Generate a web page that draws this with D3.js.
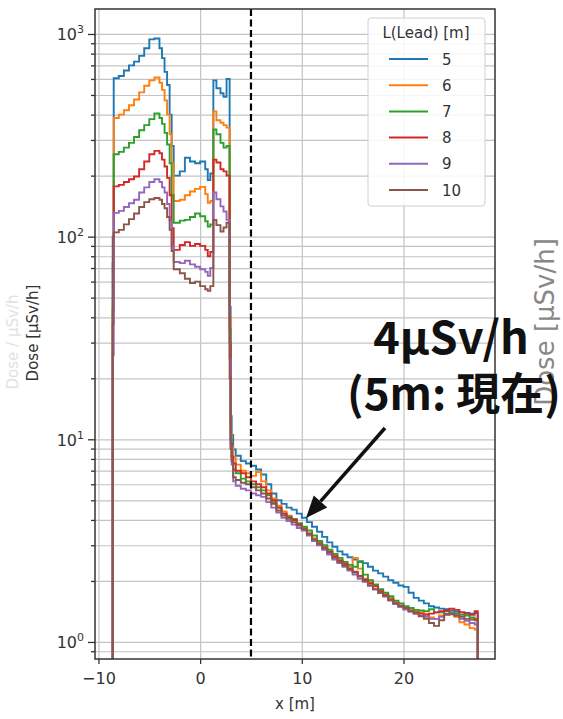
<!DOCTYPE html>
<html>
<head>
<meta charset="utf-8">
<script src="https://cdn.jsdelivr.net/npm/d3@7"></script>
<style>
body { margin: 0; background: #fff; }
svg { display: block; font-family: "DejaVu Sans", sans-serif; }
</style>
</head>
<body>
<script>
// step positions along the line [m]; each value holds until the next x
var xs = [-8.7, -8.6, -8.5, -8.0, -7.5, -7.0, -6.5, -6.0, -5.5, -5.0, -4.5, -4.0, -3.75, -3.5, -3.25, -3.0, -2.8,
          -2.6, -2.0, -1.5, -1.0, -0.5, 0, 0.5, 0.75, 1.0,
          1.3, 1.6, 2.0, 2.3, 2.6,
          2.9, 3.0, 3.1, 3.25, 3.5, 4, 4.5, 5, 5.5, 6, 6.5,
          7, 7.5, 8, 8.5, 9, 9.5, 10, 10.5, 11, 11.5, 12, 12.5, 13, 13.5, 14, 14.5, 15, 15.5, 16, 16.5,
          17, 17.5, 18, 18.5, 19, 19.5, 20, 20.5, 21, 21.5, 22, 22.5, 23, 23.5, 24, 24.5, 25, 25.5, 26, 26.5, 27,
          27.3];

var dose5 = [0.5, 74, 605, 620, 660, 700, 730, 780, 850, 940, 950, 850, 760, 650, 560, 400, 280,
             200, 210, 245, 235, 230, 235, 215, 190, 205,
             590, 540, 510, 490, 600,
             45, 13, 10.5, 8.9, 8.3, 7.8, 7.6, 7.4, 7.1, 6.7, 6.0,
             5.4, 5.0, 4.8, 4.6, 4.5, 4.3, 4.1, 3.9, 3.7, 3.5, 3.3, 3.1, 2.95, 2.8, 2.7, 2.62, 2.55, 2.5, 2.45, 2.35,
             2.25, 2.18, 2.1, 2.02, 1.96, 1.9, 1.87, 1.75, 1.65, 1.6, 1.55, 1.5, 1.48, 1.46, 1.45, 1.43, 1.41, 1.4, 1.39, 1.38, 1.39,
             0.5];
var dose6 = [0.5, 50, 385, 400, 420, 445, 475, 515, 555, 590, 610, 575, 530, 470, 400, 320, 230,
             150, 152, 160, 167, 172, 176, 162, 147, 150,
             415, 375, 365, 355, 345,
             40, 11, 9.2, 8.2, 7.5, 7.0, 6.8, 6.6, 6.9, 6.2, 5.6,
             5.1, 4.7, 4.4, 4.2, 4.0, 3.8, 3.65, 3.45, 3.25, 3.1, 2.95, 2.8, 2.7, 2.55, 2.45, 2.35, 2.6, 2.3, 2.05, 1.98,
             1.9, 1.8, 1.72, 1.65, 1.58, 1.52, 1.48, 1.45, 1.42, 1.4, 1.38, 1.32, 1.3, 1.35, 1.36, 1.38, 1.33, 1.25, 1.22, 1.17, 1.15,
             0.5];
var dose7 = [0.5, 44, 255, 262, 275, 290, 310, 335, 355, 380, 405, 385, 360, 325, 285, 230, 160,
             117, 120, 121, 125, 130, 126, 119, 112, 115,
             338, 320, 290, 275, 280,
             35, 10, 8.2, 7.1, 6.8, 6.4, 6.2, 6.0, 5.8, 5.6, 5.3,
             4.9, 4.6, 4.3, 4.15, 4.05, 3.85, 3.7, 3.55, 3.35, 3.15, 3.0, 2.85, 2.72, 2.6, 2.48, 2.4, 2.35, 2.48, 2.15, 2.02,
             1.92, 1.82, 1.75, 1.68, 1.6, 1.55, 1.5, 1.47, 1.44, 1.43, 1.42, 1.45, 1.4, 1.4, 1.42, 1.4, 1.38, 1.36, 1.35, 1.32, 1.3,
             0.5];
var dose8 = [0.5, 37, 177, 180, 186, 192, 198, 215, 235, 255, 265, 258, 240, 222, 195, 160, 110,
             86, 91, 94, 90, 92, 90, 86, 80, 84,
             240, 232, 215, 210, 200,
             30, 9.5, 8.2, 7.6, 7.0, 6.8, 6.5, 6.2, 6.0, 5.8, 5.4,
             5.0, 4.6, 4.3, 4.1, 4.0, 3.8, 3.6, 3.4, 3.2, 3.05, 2.92, 2.78, 2.65, 2.52, 2.42, 2.3, 2.22, 2.12, 2.03, 1.95,
             1.88, 1.78, 1.7, 1.62, 1.55, 1.5, 1.45, 1.42, 1.4, 1.38, 1.36, 1.38, 1.4, 1.42, 1.43, 1.46, 1.44, 1.4, 1.38, 1.36, 1.42,
             0.5];
var dose9 = [0.5, 26, 131, 134, 140, 146, 152, 165, 175, 186, 192, 186, 175, 165, 145, 120, 90,
             75, 74, 76, 73, 71, 69, 67, 64, 70,
             165, 153, 141, 133, 121,
             25, 9, 7.5, 6.2, 5.9, 5.7, 5.6, 5.4, 5.3, 5.2, 4.9,
             4.6, 4.35, 4.1, 3.95, 3.8, 3.65, 3.55, 3.35, 3.15, 3.0, 2.85, 2.7, 2.55, 2.45, 2.35, 2.25, 2.15, 2.05, 1.98, 1.9,
             1.82, 1.75, 1.68, 1.6, 1.54, 1.49, 1.45, 1.41, 1.38, 1.35, 1.33, 1.3, 1.3, 1.33, 1.36, 1.38, 1.35, 1.3, 1.27, 1.24, 1.22,
             0.5];
var dose10 = [0.5, 100, 105, 108, 115, 122, 130, 140, 148, 153, 155, 152, 145, 138, 125, 108, 85,
              69, 66, 62, 59, 60, 57, 55, 54, 57,
              121, 114, 106, 111, 117,
              20, 9, 7.8, 6.5, 6.3, 6.1, 6.0, 5.8, 5.6, 5.4, 5.1,
              4.8, 4.45, 4.2, 4.05, 3.9, 3.75, 3.6, 3.4, 3.2, 3.05, 2.9, 2.75, 2.6, 2.48, 2.38, 2.28, 2.2, 2.1, 2.0, 1.9,
              1.82, 1.75, 1.68, 1.61, 1.55, 1.5, 1.47, 1.42, 1.38, 1.34, 1.3, 1.24, 1.2, 1.28, 1.38, 1.37, 1.35, 1.33, 1.3, 1.29, 1.28,
              0.5];

var leads = ["5", "6", "7", "8", "9", "10"];
var series = [dose5, dose6, dose7, dose8, dose9, dose10];
var colors = ["#1f77b4", "#ff7f0e", "#2ca02c", "#d62728", "#9467bd", "#8c564b"];

var xTicks = [-10, 0, 10, 20];
var yTicks = [1, 10, 100, 1000];
var yMinor = [0.9, 2, 3, 4, 5, 6, 7, 8, 9, 20, 30, 40, 50, 60, 70, 80, 90, 200, 300, 400, 500, 600, 700, 800, 900];
var markerX = 5;

var W = 563, H = 719;
var plot = { left: 95, right: 495, top: 9, bottom: 659 };

var svg = d3.select("body").append("svg")
            .attr("width", W)
            .attr("height", H);

var x = d3.scaleLinear().domain([-10.34, 29.0]).range([plot.left, plot.right]);
var y = d3.scaleLog().domain([0.824, 1328]).range([plot.bottom, plot.top]);

// grid
var gridX = svg.append("g")
               .attr("transform", "translate(0," + plot.bottom + ")")
               .call(d3.axisBottom(x).tickValues(xTicks).tickSize(-(plot.bottom - plot.top)).tickFormat(""));
var gridY = svg.append("g")
               .attr("transform", "translate(" + plot.left + ",0)")
               .call(d3.axisLeft(y).tickValues(yTicks.concat(yMinor)).tickSize(-(plot.right - plot.left)).tickFormat(""));
[gridX, gridY].forEach(function(g) {
  g.select(".domain").remove();
  g.selectAll("line").attr("stroke", "#c4c4c4").attr("stroke-width", 1.2);
});

// lines
svg.append("clipPath").attr("id", "clip")
   .append("rect")
   .attr("x", plot.left).attr("y", plot.top)
   .attr("width", plot.right - plot.left).attr("height", plot.bottom - plot.top);

var line = d3.line()
             .x(function(d, i) { return x(xs[i]); })
             .y(function(d) { return y(d); })
             .curve(d3.curveStepAfter);

svg.append("g").attr("clip-path", "url(#clip)")
   .selectAll("path")
   .data(series)
   .join("path")
   .attr("d", line)
   .attr("fill", "none")
   .attr("stroke", function(d, i) { return colors[i]; })
   .attr("stroke-width", 1.9)
   .attr("stroke-linejoin", "miter");

// dashed marker
svg.append("line")
   .attr("x1", x(markerX)).attr("x2", x(markerX))
   .attr("y1", plot.top).attr("y2", plot.bottom)
   .attr("stroke", "black")
   .attr("stroke-width", 2.2)
   .attr("stroke-dasharray", "7,3.5");

// axes
var xAxis = svg.append("g")
               .attr("transform", "translate(0," + plot.bottom + ")")
               .call(d3.axisBottom(x).tickValues(xTicks).tickSize(5).tickPadding(9));
var yAxis = svg.append("g")
               .attr("transform", "translate(" + plot.left + ",0)")
               .call(d3.axisLeft(y).tickValues(yTicks).tickSize(7).tickPadding(4).tickFormat(""));
var yAxisMinor = svg.append("g")
                    .attr("transform", "translate(" + plot.left + ",0)")
                    .call(d3.axisLeft(y).tickValues(yMinor).tickSize(4).tickFormat(""));

[xAxis, yAxis, yAxisMinor].forEach(function(g) {
  g.select(".domain").remove();
  g.selectAll("line").attr("stroke", "#333").attr("stroke-width", 1.3);
  g.selectAll("text").attr("fill", "#333").attr("font-size", 16).attr("font-family", "DejaVu Sans");
});

yAxis.selectAll("text")
     .attr("x", -11)
     .attr("dy", "0.36em")
     .each(function(d) {
       var t = d3.select(this).text("10");
       t.append("tspan").attr("dy", -7).attr("font-size", 11).text(Math.round(Math.log10(d)));
     });

// frame
svg.append("rect")
   .attr("x", plot.left).attr("y", plot.top)
   .attr("width", plot.right - plot.left).attr("height", plot.bottom - plot.top)
   .attr("fill", "none")
   .attr("stroke", "#333")
   .attr("stroke-width", 1.5);

// axis labels
svg.append("text")
   .attr("x", (plot.left + plot.right) / 2).attr("y", 709)
   .attr("text-anchor", "middle")
   .attr("font-size", 15).attr("fill", "#333")
   .text("x [m]");

svg.append("text")
   .attr("transform", "translate(18,342) rotate(-90)")
   .attr("text-anchor", "middle")
   .attr("font-size", 15).attr("fill", "#e2e2e2")
   .text("Dose / μSv/h");

svg.append("text")
   .attr("transform", "translate(38,333) rotate(-90)")
   .attr("text-anchor", "middle")
   .attr("font-size", 15).attr("fill", "#333")
   .text("Dose [μSv/h]");

// label of the neighbouring panel, mostly hidden behind the note
svg.append("text")
   .attr("transform", "translate(554,322) rotate(-90)")
   .attr("text-anchor", "middle")
   .attr("font-size", 26).attr("fill", "#888")
   .text("Dose [μSv/h]");

// legend
var legend = svg.append("g");
legend.append("rect")
      .attr("x", 368).attr("y", 18)
      .attr("width", 117).attr("height", 188)
      .attr("rx", 3)
      .attr("fill", "white").attr("fill-opacity", 0.85)
      .attr("stroke", "#d0d0d0");
legend.append("text")
      .attr("x", 426).attr("y", 38)
      .attr("text-anchor", "middle")
      .attr("font-size", 15).attr("fill", "#333")
      .text("L(Lead) [m]");
var items = legend.selectAll("g.item")
                  .data(leads)
                  .join("g")
                  .attr("class", "item")
                  .attr("transform", function(d, i) { return "translate(0," + (59 + i * 26.2) + ")"; });
items.append("line")
     .attr("x1", 389).attr("x2", 428)
     .attr("stroke", function(d, i) { return colors[i]; })
     .attr("stroke-width", 2);
items.append("text")
     .attr("x", 442).attr("y", 5.5)
     .attr("font-size", 15).attr("fill", "#333")
     .text(function(d) { return d; });

// annotation
var note = svg.append("g")
              .attr("font-family", "'Noto Sans CJK JP', sans-serif")
              .attr("font-weight", 700)
              .attr("text-anchor", "middle")
              .attr("fill", "#111");
note.append("text").attr("x", 451).attr("y", 354).attr("font-size", 45).text("4μSv/h");
note.append("text").attr("x", 454).attr("y", 410).attr("font-size", 44).text("(5m: 現在)");

var arrow = { x1: 385, y1: 428, x2: 306, y2: 518 };
var ang = Math.atan2(arrow.y2 - arrow.y1, arrow.x2 - arrow.x1);
var headL = 22, headW = 9;
var bx = arrow.x2 - headL * Math.cos(ang), by = arrow.y2 - headL * Math.sin(ang);
svg.append("line")
   .attr("x1", arrow.x1).attr("y1", arrow.y1)
   .attr("x2", bx).attr("y2", by)
   .attr("stroke", "#111").attr("stroke-width", 3.5);
svg.append("polygon")
   .attr("points", [
     [arrow.x2, arrow.y2],
     [bx + headW * Math.sin(ang), by - headW * Math.cos(ang)],
     [bx - headW * Math.sin(ang), by + headW * Math.cos(ang)]
   ].map(function(p) { return p.join(","); }).join(" "))
   .attr("fill", "#111");
</script>
</body>
</html>
